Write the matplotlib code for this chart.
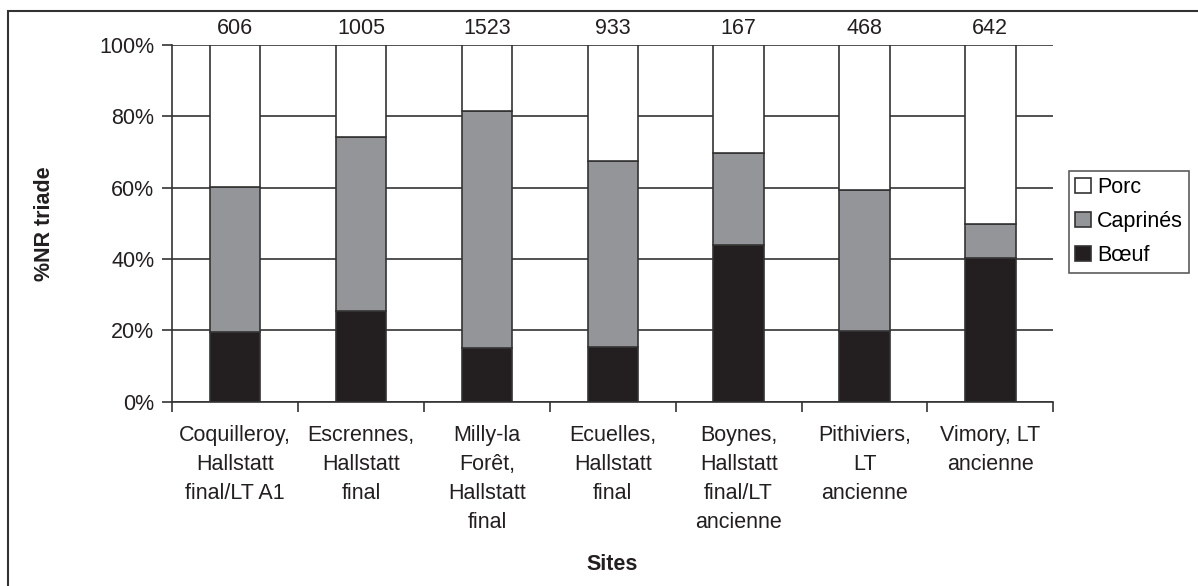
import matplotlib.pyplot as plt
from matplotlib.patches import Rectangle
import numpy as np

plt.rcParams['font.family'] = ['Liberation Sans', 'DejaVu Sans']

sites = ["Coquilleroy,\nHallstatt\nfinal/LT A1", "Escrennes,\nHallstatt\nfinal",
         "Milly-la\nForêt,\nHallstatt\nfinal", "Ecuelles,\nHallstatt\nfinal",
         "Boynes,\nHallstatt\nfinal/LT\nancienne", "Pithiviers,\nLT\nancienne",
         "Vimory, LT\nancienne"]
totals = [606, 1005, 1523, 933, 167, 468, 642]
boeuf = [19.5, 25.4, 15.0, 15.4, 43.8, 19.8, 40.2]
caprines = [40.6, 48.9, 66.5, 52.1, 26.0, 39.6, 9.6]
porc = [100 - b - c for b, c in zip(boeuf, caprines)]

W, H = 1198, 586
FS = 15.5
fig = plt.figure(figsize=(W / 100, H / 100), dpi=100)
ax = fig.add_axes([172.3 / W, 1 - 401.7 / H, (1053.3 - 172.3) / W, (401.7 - 45) / H])

x = np.arange(len(sites))
bw = 0.4
edge = dict(edgecolor='#333333', linewidth=1.2, width=bw, zorder=3)
ax.bar(x, boeuf, color='#231f20', label='Bœuf', **edge)
ax.bar(x, caprines, bottom=boeuf, color='#939598', label='Caprinés', **edge)
ax.bar(x, porc, bottom=np.add(boeuf, caprines), color='white', label='Porc', **edge)

for i, n in enumerate(totals):
    ax.annotate(str(n), (i, 100), xytext=(0, 4), textcoords='offset points',
                ha='center', va='bottom', fontsize=FS, color='#231f20')

ax.set_xlim(-0.5, len(sites) - 0.5)
ax.set_ylim(0, 100)
ax.set_yticks(np.arange(0, 101, 20))
ax.set_yticklabels([f"{v}%" for v in range(0, 101, 20)])
ax.yaxis.grid(True, color='#333333', linewidth=1.2, zorder=0)
ax.set_axisbelow(True)

ax.set_xticks(x)
ax.set_xticklabels(sites, va='top', linespacing=1.5)
ax.set_xticks(np.arange(-0.5, len(sites), 1), minor=True)
ax.tick_params(axis='x', which='major', length=0, pad=17, labelsize=FS, colors='#231f20')
ax.tick_params(axis='x', which='minor', length=7, width=1.2, color='#333333')
ax.tick_params(axis='y', length=7, width=1.2, color='#333333', labelsize=FS,
               labelcolor='#231f20', pad=6)

for s in ['top', 'right']:
    ax.spines[s].set_visible(False)
for s in ['left', 'bottom']:
    ax.spines[s].set_color('#333333')
    ax.spines[s].set_linewidth(1.2)

ax.set_ylabel('%NR triade', fontsize=FS, fontweight='bold', labelpad=32, color='#231f20')
fig.text(612 / W, 1 - 565 / H, 'Sites', fontsize=FS, fontweight='bold',
         ha='center', va='center', color='#231f20')

handles, labels = ax.get_legend_handles_labels()
leg = fig.legend(handles[::-1], labels[::-1], loc='upper left',
                 bbox_to_anchor=(1069 / W, 1 - 171 / H), fontsize=FS,
                 frameon=True, fancybox=False, handlelength=0.7, handleheight=0.7,
                 handletextpad=0.3, borderpad=0.3, labelspacing=0.6, borderaxespad=0)
leg.get_frame().set_edgecolor('#333333')
leg.get_frame().set_linewidth(1.2)

fig.patches.append(Rectangle((8 / W, -0.1), 1.2, 1 - 11 / H + 0.1, transform=fig.transFigure,
                             fill=False, edgecolor='#333333', linewidth=1.5))

fig.savefig('out.png', dpi=100)
